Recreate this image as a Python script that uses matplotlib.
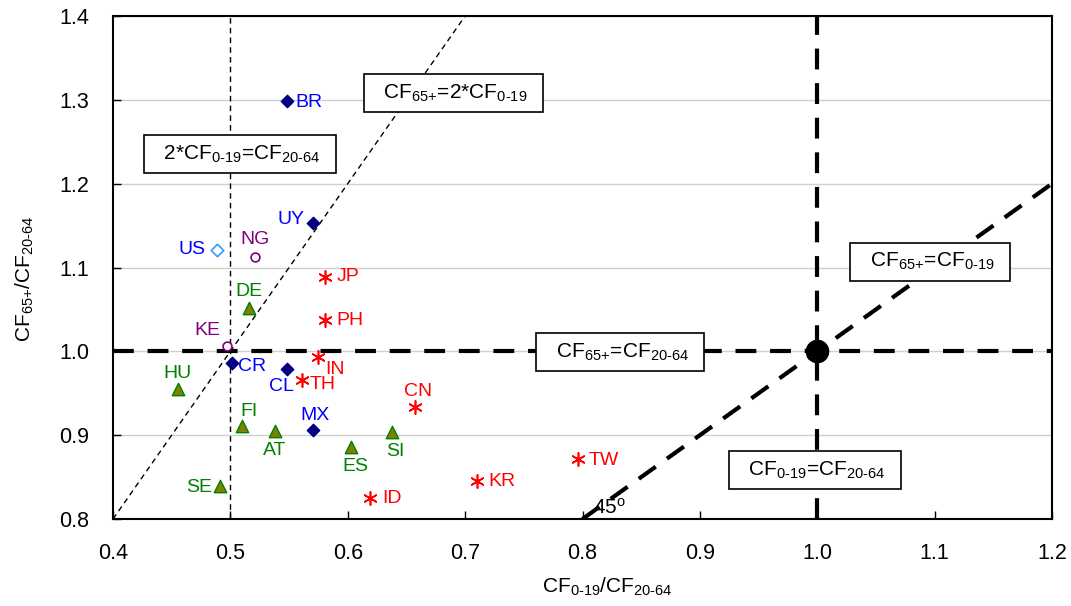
import matplotlib
matplotlib.use('Agg')
import matplotlib.pyplot as plt
import numpy as np

plt.rcParams['font.family'] = ['Liberation Sans', 'DejaVu Sans']
plt.rcParams['mathtext.fontset'] = 'custom'
plt.rcParams['mathtext.rm'] = 'Liberation Sans'
plt.rcParams['mathtext.it'] = 'Liberation Sans'

# Datos por grupo (x = CF0-19/CF20-64, y = CF65+/CF20-64)
americas_codes = ['BR', 'UY', 'CR', 'CL', 'MX']
americas_x = [0.548, 0.570, 0.501, 0.548, 0.570]
americas_y = [1.299, 1.153, 0.986, 0.979, 0.906]

us_codes = ['US']
us_x = [0.489]
us_y = [1.121]

africa_codes = ['NG', 'KE']
africa_x = [0.521, 0.497]
africa_y = [1.112, 1.006]

asia_codes = ['JP', 'PH', 'IN', 'TH', 'CN', 'ID', 'KR', 'TW']
asia_x = [0.581, 0.581, 0.575, 0.561, 0.657, 0.619, 0.710, 0.796]
asia_y = [1.089, 1.037, 0.993, 0.966, 0.934, 0.825, 0.845, 0.872]

europe_codes = ['DE', 'HU', 'FI', 'AT', 'ES', 'SI', 'SE']
europe_x = [0.516, 0.455, 0.510, 0.538, 0.603, 0.638, 0.491]
europe_y = [1.052, 0.955, 0.911, 0.905, 0.886, 0.904, 0.839]

x_ticks = [0.4, 0.5, 0.6, 0.7, 0.8, 0.9, 1.0, 1.1, 1.2]
y_ticks = [0.8, 0.9, 1.0, 1.1, 1.2, 1.3, 1.4]

# Posición de cada etiqueta respecto a su punto (pixeles, alineación)
label_pos = {
    'BR': (9, -2, 'left', 'center'), 'UY': (-8, 4, 'right', 'center'),
    'US': (-12, 0, 'right', 'center'), 'NG': (0, 9, 'center', 'bottom'),
    'JP': (11, 0, 'left', 'center'), 'DE': (0, 8, 'center', 'bottom'),
    'PH': (11, 0, 'left', 'center'), 'KE': (-6, 7, 'right', 'bottom'),
    'CR': (6, -3, 'left', 'center'), 'IN': (7, -12, 'left', 'center'),
    'CL': (-5, -9, 'center', 'top'), 'TH': (8, -5, 'left', 'center'),
    'HU': (0, 7, 'center', 'bottom'), 'CN': (3, 7, 'center', 'bottom'),
    'FI': (7, 6, 'center', 'bottom'), 'AT': (0, -11, 'center', 'top'),
    'MX': (2, 6, 'center', 'bottom'), 'ES': (4, -11, 'center', 'top'),
    'SI': (3, -11, 'center', 'top'), 'SE': (-8, -1, 'right', 'center'),
    'ID': (12, 0, 'left', 'center'), 'KR': (12, 0, 'left', 'center'),
    'TW': (11, -2, 'left', 'center'),
}


def sub(txt):
    return r'$_{\text{' + txt + '}}$'


fig = plt.figure(figsize=(10.71, 6.06), dpi=100)
ax = fig.add_axes([113 / 1071, 1 - 519 / 606, (1052 - 113) / 1071, (519 - 16) / 606])

ax.set_xlim(0.4, 1.2)
ax.set_ylim(0.8, 1.4)
ax.set_xticks(x_ticks)
ax.set_yticks(y_ticks)
ax.set_xticklabels([f'{v:.1f}' for v in x_ticks])
ax.set_yticklabels([f'{v:.1f}' for v in y_ticks])
ax.tick_params(direction='in', length=6, width=1, labelsize=15.5, pad=17)
ax.yaxis.grid(True, color='#d0d0d0', lw=1)
ax.set_axisbelow(True)
for s in ax.spines.values():
    s.set_linewidth(1.5)
    s.set_color('black')

# Líneas de referencia finas
ax.axvline(0.5, color='black', lw=1, dashes=(4, 3), zorder=2)
xl = np.array([0.4, 0.7])
ax.plot(xl, 2 * xl, color='black', lw=1, dashes=(4, 3), zorder=2)

# Líneas de referencia gruesas
ax.axhline(1.0, color='black', lw=3, dashes=(5, 3.3), zorder=2)
ax.axvline(1.0, color='black', lw=3, dashes=(5, 3.3), zorder=2)
xd = np.array([0.8, 1.2])
ax.plot(xd, xd, color='black', lw=3, dashes=(5, 3.3), zorder=2)
ax.plot([1.0], [1.0], 'o', color='black', markersize=16, zorder=4)

# Puntos
ax.scatter(americas_x, americas_y, marker='D', s=40, color='#000080', zorder=5)
ax.scatter(us_x, us_y, marker='D', s=40, facecolor='white', edgecolor='#3399FF', lw=1.2, zorder=5)
ax.scatter(africa_x, africa_y, marker='o', s=40, facecolor='white', edgecolor='#800080', lw=1.2, zorder=5)
ax.scatter(asia_x, asia_y, marker=(6, 2, 0), s=90, color='#FF0000', lw=1.2, zorder=5)
ax.scatter(europe_x, europe_y, marker='^', s=80, facecolor='#808000', edgecolor='#008000', lw=1, zorder=5)

groups = [
    (americas_codes, americas_x, americas_y, '#0000FF'),
    (us_codes, us_x, us_y, '#0000FF'),
    (africa_codes, africa_x, africa_y, '#800080'),
    (asia_codes, asia_x, asia_y, '#FF0000'),
    (europe_codes, europe_x, europe_y, '#008000'),
]
for codes, xs, ys, col in groups:
    for c, xv, yv in zip(codes, xs, ys):
        dx, dy, ha, va = label_pos[c]
        ax.annotate(c, (xv, yv), xytext=(dx, dy), textcoords='offset pixels',
                    ha=ha, va=va, color=col, fontsize=14, zorder=6)

# Cajas de texto
box = dict(boxstyle='square,pad=0.4', facecolor='white', edgecolor='black', lw=1.2)
boxes = [
    (0.690, 1.308, 'CF' + sub('65+') + '=2*CF' + sub('0-19')),
    (0.508, 1.235, '2*CF' + sub('0-19') + '=CF' + sub('20-64')),
    (1.096, 1.107, 'CF' + sub('65+') + '=CF' + sub('0-19')),
    (0.832, 0.999, 'CF' + sub('65+') + '=CF' + sub('20-64')),
    (0.998, 0.858, 'CF' + sub('0-19') + '=CF' + sub('20-64')),
]
for bx, by, txt in boxes:
    ax.text(bx, by, '  ' + txt + '  ', ha='center', va='center', fontsize=15,
            bbox=box, zorder=7)

ax.text(0.823, 0.814, '45' + r'$^{\text{o}}$', ha='center', va='center', fontsize=15, zorder=7)

ax.set_xlabel('CF' + sub('0-19') + '/CF' + sub('20-64'), fontsize=15)
ax.set_ylabel('CF' + sub('65+') + '/CF' + sub('20-64'), fontsize=15)
ax.xaxis.set_label_coords(0.526, -0.113)
ax.yaxis.set_label_coords(-0.082, 0.477)

fig.savefig('out.png', dpi=100)
